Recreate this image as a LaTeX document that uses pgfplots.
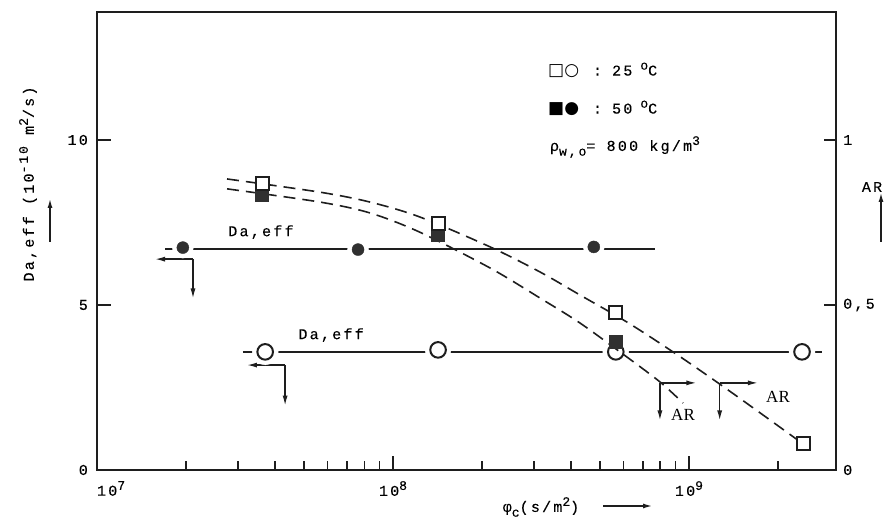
\documentclass[border=0pt]{standalone}
\usepackage{pgfplots}
\pgfplotsset{compat=1.18}
\usetikzlibrary{arrows.meta}
\usepackage{fontspec}
\setmainfont{Liberation Mono}[LetterSpace=15, FakeBold=0.15]
\newfontfamily\arfont{Liberation Serif}
\newfontfamily\symfont{DejaVu Sans}
\definecolor{ink}{HTML}{1e1e1e}
\definecolor{fillk}{HTML}{303030}
\newcommand{\sups}[1]{\raisebox{0.75ex}{\fontsize{13}{14}\selectfont #1}}
\newcommand{\subs}[1]{\raisebox{-0.6ex}{\fontsize{13}{14}\selectfont #1}}
\tikzset{arr/.style={-{Latex[length=10pt,width=5pt]}, line width=1.4pt, ink}}

\begin{document}
\fontsize{15}{18}\selectfont
\begin{tikzpicture}[font=\fontsize{15}{18}\selectfont]
\path[use as bounding box] (-97pt,-51pt) rectangle (787pt,470pt);
% ---------- left axis: Da,eff ----------
\begin{axis}[
  at={(0pt,0pt)}, anchor=south west,
  scale only axis, width=739pt, height=458pt,
  xmode=log, xmin=1e7, xmax=3.14e9,
  ymin=0, ymax=13.88,
  axis line style={line width=2pt, ink},
  xtick={1e7,1e8,1e9},
  xticklabels={{\makebox[0pt][l]{10\sups{7}}},{10\sups{8}},{10\sups{9}}},
  minor xtick={2e7,3e7,4e7,5e7,6e7,7e7,8e7,9e7,2e8,3e8,4e8,5e8,6e8,7e8,8e8,9e8,2e9},
  xtick pos=bottom, ytick pos=left,
  ytick={0,5,10}, yticklabels={0,5,10},
  tick align=inside,
  major tick length=14pt, minor tick length=9pt,
  tick style={line width=1.6pt, ink},
  xticklabel style={yshift=-6pt},
  yticklabel style={xshift=-4pt},
  clip=false,
]
% Da,eff lines
\addplot[ink, line width=1.7pt] coordinates {(1.70e7,6.70) (7.67e8,6.70)};
\addplot[ink, line width=1.7pt] coordinates {(3.11e7,3.58) (2.81e9,3.58)};
% halos (gaps in lines around marks)
\addplot[only marks, mark=*, mark size=10.5pt, mark options={draw=white, fill=white}]
  coordinates {(1.95e7,6.74) (7.62e7,6.68) (4.77e8,6.76)};
\addplot[only marks, mark=*, mark size=13pt, mark options={draw=white, fill=white}]
  coordinates {(3.70e7,3.58) (1.42e8,3.64) (5.66e8,3.58) (2.41e9,3.58)};
% 50 C filled circles
\addplot[only marks, mark=*, mark size=6pt, mark options={draw=fillk, fill=fillk}]
  coordinates {(1.95e7,6.74) (7.62e7,6.68) (4.77e8,6.76)};
% 25 C open circles
\addplot[only marks, mark=*, mark size=7.8pt, mark options={draw=ink, fill=white, line width=2pt}]
  coordinates {(3.70e7,3.58) (1.42e8,3.64) (5.66e8,3.58) (2.41e9,3.58)};
% labels
\node at (axis cs:3.58e7,7.21) {Da,eff};
\node at (axis cs:6.18e7,4.09) {Da,eff};
% corner arrows for Da,eff
\draw[arr] (axis cs:2.11e7,6.39) -- (axis cs:1.57e7,6.39);
\draw[arr] (axis cs:2.11e7,6.39) -- (axis cs:2.11e7,5.20);
\draw[arr] (axis cs:4.32e7,3.18) -- (axis cs:3.21e7,3.18);
\draw[arr] (axis cs:4.32e7,3.18) -- (axis cs:4.32e7,1.95);
% corner arrows for AR
\draw[arr] (axis cs:7.98e8,2.64) -- (axis cs:1.06e9,2.64);
\draw[arr] (axis cs:7.98e8,2.64) -- (axis cs:7.98e8,1.50);
\draw[arr] (axis cs:1.27e9,2.64) -- (axis cs:1.71e9,2.64);
\draw[arr] (axis cs:1.27e9,2.64) -- (axis cs:1.27e9,1.50);
\node[font=\arfont\fontsize{17}{19}\selectfont] at (axis cs:9.55e8,1.67) {AR};
\node[font=\arfont\fontsize{17}{19}\selectfont] at (axis cs:2.00e9,2.21) {AR};
% legend text
\node[anchor=west] at (rel axis cs:0.6035,0.873) {{\symfont\fontsize{17}{20}\selectfont □○}\hspace{14pt}:\hspace{10pt}25\hspace{8pt}\sups{o}C};
\node[anchor=west] at (rel axis cs:0.6035,0.790) {{\symfont\fontsize{17}{20}\selectfont ■●}\hspace{14pt}:\hspace{10pt}50\hspace{8pt}\sups{o}C};
\node[anchor=west] at (rel axis cs:0.606,0.705) {ρ\subs{w,o}= 800 kg/m\sups{3}};
\end{axis}
% ---------- right axis: AR ----------
\begin{axis}[
  at={(0pt,0pt)}, anchor=south west,
  scale only axis, width=739pt, height=458pt,
  xmode=log, xmin=1e7, xmax=3.14e9,
  ymin=0, ymax=1.388,
  hide x axis,
  axis y line*=right,
  axis line style={line width=2pt, ink},
  ytick={0,0.5,1}, yticklabels={0,{0,5},1},
  tick align=inside,
  major tick length=12pt,
  tick style={line width=1.6pt, ink},
  yticklabel style={xshift=2pt},
  clip=false,
]
% dashed fitted curves
\addplot[ink, line width=1.6pt, dash pattern=on 12pt off 7pt, smooth, tension=0.5] coordinates {
 (2.75e7,0.882) (5.66e7,0.842) (8.36e7,0.812) (1.23e8,0.767) (2.13e8,0.676)
 (3.14e8,0.600) (4.29e8,0.530) (6.18e8,0.448) (8.83e8,0.358) (1.24e9,0.267)
 (1.74e9,0.173) (2.43e9,0.079)};
\addplot[ink, line width=1.6pt, dash pattern=on 12pt off 7pt, smooth, tension=0.5] coordinates {
 (2.75e7,0.852) (5.66e7,0.812) (8.36e7,0.779) (1.23e8,0.721) (2.13e8,0.612)
 (3.14e8,0.521) (4.29e8,0.445) (6.18e8,0.342) (7.98e8,0.267) (9.55e8,0.203)};
% 50 C filled squares
\addplot[only marks, mark=square*, mark size=6.5pt, mark options={draw=fillk, fill=fillk, line width=1.2pt}]
  coordinates {(3.61e7,0.833) (1.42e8,0.712) (5.66e8,0.388)};
% 25 C open squares
\addplot[only marks, mark=square*, mark size=6.5pt, mark options={draw=ink, fill=white, line width=2pt}]
  coordinates {(3.61e7,0.867) (1.42e8,0.748) (5.66e8,0.476) (2.43e9,0.079)};
\end{axis}
% ---------- outer labels ----------
\node[rotate=90] at (-69pt,286pt) {Da,eff (10\sups{-10} m\sups{2}/s)};
\draw[arr, line width=1.8pt] (-47pt,228pt) -- (-47pt,272pt);
\node at (775pt,283pt) {AR};
\draw[arr, line width=1.8pt] (784pt,228pt) -- (784pt,278pt);
\node at (444pt,-37pt) {φ\subs{c}(s/m\sups{2})};
\draw[arr, line width=1.8pt] (506pt,-36pt) -- (556pt,-36pt);
\end{tikzpicture}
\end{document}
